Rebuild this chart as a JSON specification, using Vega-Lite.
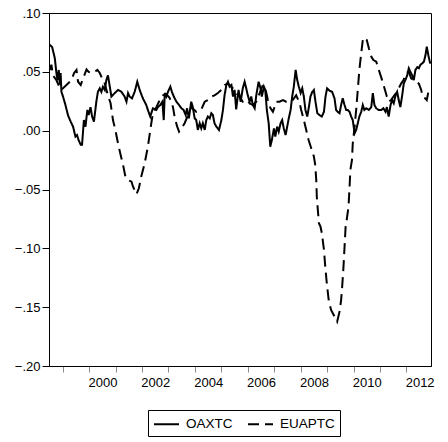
{
  "$schema": "https://vega.github.io/schema/vega-lite/v6.json",
  "width": 382,
  "height": 353,
  "autosize": "none",
  "padding": {"left": 49, "top": 13, "right": 17, "bottom": 76},
  "background": "white",
  "config": {
    "font": "Liberation Sans",
    "view": {"stroke": "black", "strokeWidth": 1}
  },
  "data": {
    "values": [
      {"series": "OAXTC", "year": 1998.51, "value": 0.073},
      {"series": "OAXTC", "year": 1998.60, "value": 0.071},
      {"series": "OAXTC", "year": 1998.70, "value": 0.0615},
      {"series": "OAXTC", "year": 1998.76, "value": 0.049},
      {"series": "OAXTC", "year": 1998.80, "value": 0.043},
      {"series": "OAXTC", "year": 1998.85, "value": 0.0516},
      {"series": "OAXTC", "year": 1998.89, "value": 0.039},
      {"series": "OAXTC", "year": 1998.92, "value": 0.049},
      {"series": "OAXTC", "year": 1998.95, "value": 0.033},
      {"series": "OAXTC", "year": 1999.01, "value": 0.029},
      {"series": "OAXTC", "year": 1999.10, "value": 0.022},
      {"series": "OAXTC", "year": 1999.20, "value": 0.013},
      {"series": "OAXTC", "year": 1999.30, "value": 0.0077},
      {"series": "OAXTC", "year": 1999.39, "value": 0.0034},
      {"series": "OAXTC", "year": 1999.48, "value": -0.005},
      {"series": "OAXTC", "year": 1999.54, "value": -0.0037},
      {"series": "OAXTC", "year": 1999.60, "value": -0.008},
      {"series": "OAXTC", "year": 1999.68, "value": -0.012},
      {"series": "OAXTC", "year": 1999.73, "value": -0.012},
      {"series": "OAXTC", "year": 1999.80, "value": 0.009},
      {"series": "OAXTC", "year": 1999.86, "value": 0.0034},
      {"series": "OAXTC", "year": 1999.93, "value": 0.0176},
      {"series": "OAXTC", "year": 1999.98, "value": 0.0133},
      {"series": "OAXTC", "year": 2000.05, "value": 0.020},
      {"series": "OAXTC", "year": 2000.11, "value": 0.012},
      {"series": "OAXTC", "year": 2000.18, "value": 0.0077},
      {"series": "OAXTC", "year": 2000.27, "value": 0.0246},
      {"series": "OAXTC", "year": 2000.33, "value": 0.033},
      {"series": "OAXTC", "year": 2000.40, "value": 0.036},
      {"series": "OAXTC", "year": 2000.46, "value": 0.033},
      {"series": "OAXTC", "year": 2000.52, "value": 0.0374},
      {"series": "OAXTC", "year": 2000.59, "value": 0.0346},
      {"series": "OAXTC", "year": 2000.65, "value": 0.043},
      {"series": "OAXTC", "year": 2000.71, "value": 0.047},
      {"series": "OAXTC", "year": 2000.78, "value": 0.0374},
      {"series": "OAXTC", "year": 2000.84, "value": 0.029},
      {"series": "OAXTC", "year": 2000.97, "value": 0.032},
      {"series": "OAXTC", "year": 2001.09, "value": 0.0346},
      {"series": "OAXTC", "year": 2001.22, "value": 0.033},
      {"series": "OAXTC", "year": 2001.34, "value": 0.029},
      {"series": "OAXTC", "year": 2001.41, "value": 0.0246},
      {"series": "OAXTC", "year": 2001.47, "value": 0.032},
      {"series": "OAXTC", "year": 2001.53, "value": 0.029},
      {"series": "OAXTC", "year": 2001.62, "value": 0.0275},
      {"series": "OAXTC", "year": 2001.72, "value": 0.033},
      {"series": "OAXTC", "year": 2001.82, "value": 0.0416},
      {"series": "OAXTC", "year": 2001.91, "value": 0.0346},
      {"series": "OAXTC", "year": 2002.03, "value": 0.0275},
      {"series": "OAXTC", "year": 2002.16, "value": 0.0218},
      {"series": "OAXTC", "year": 2002.22, "value": 0.0176},
      {"series": "OAXTC", "year": 2002.31, "value": 0.012},
      {"series": "OAXTC", "year": 2002.41, "value": 0.019},
      {"series": "OAXTC", "year": 2002.54, "value": 0.0176},
      {"series": "OAXTC", "year": 2002.60, "value": 0.020},
      {"series": "OAXTC", "year": 2002.69, "value": 0.0218},
      {"series": "OAXTC", "year": 2002.77, "value": 0.0246},
      {"series": "OAXTC", "year": 2002.82, "value": 0.009},
      {"series": "OAXTC", "year": 2002.86, "value": 0.032},
      {"series": "OAXTC", "year": 2002.92, "value": 0.029},
      {"series": "OAXTC", "year": 2002.98, "value": 0.033},
      {"series": "OAXTC", "year": 2003.07, "value": 0.0374},
      {"series": "OAXTC", "year": 2003.13, "value": 0.033},
      {"series": "OAXTC", "year": 2003.20, "value": 0.029},
      {"series": "OAXTC", "year": 2003.30, "value": 0.0246},
      {"series": "OAXTC", "year": 2003.40, "value": 0.0218},
      {"series": "OAXTC", "year": 2003.49, "value": 0.019},
      {"series": "OAXTC", "year": 2003.57, "value": 0.0176},
      {"series": "OAXTC", "year": 2003.65, "value": 0.0133},
      {"series": "OAXTC", "year": 2003.70, "value": 0.019},
      {"series": "OAXTC", "year": 2003.77, "value": 0.0105},
      {"series": "OAXTC", "year": 2003.86, "value": 0.0246},
      {"series": "OAXTC", "year": 2003.92, "value": 0.020},
      {"series": "OAXTC", "year": 2003.99, "value": 0.0105},
      {"series": "OAXTC", "year": 2004.05, "value": 0.009},
      {"series": "OAXTC", "year": 2004.11, "value": 0.0006},
      {"series": "OAXTC", "year": 2004.18, "value": 0.0063},
      {"series": "OAXTC", "year": 2004.24, "value": 0.002},
      {"series": "OAXTC", "year": 2004.30, "value": 0.0063},
      {"series": "OAXTC", "year": 2004.37, "value": 0.0006},
      {"series": "OAXTC", "year": 2004.43, "value": 0.009},
      {"series": "OAXTC", "year": 2004.49, "value": 0.012},
      {"series": "OAXTC", "year": 2004.56, "value": 0.0105},
      {"series": "OAXTC", "year": 2004.62, "value": 0.0148},
      {"series": "OAXTC", "year": 2004.68, "value": 0.0133},
      {"series": "OAXTC", "year": 2004.74, "value": 0.0063},
      {"series": "OAXTC", "year": 2004.81, "value": 0.0034},
      {"series": "OAXTC", "year": 2004.91, "value": 0.0006},
      {"series": "OAXTC", "year": 2005.00, "value": 0.009},
      {"series": "OAXTC", "year": 2005.06, "value": 0.0176},
      {"series": "OAXTC", "year": 2005.12, "value": 0.030},
      {"series": "OAXTC", "year": 2005.19, "value": 0.0388},
      {"series": "OAXTC", "year": 2005.25, "value": 0.0416},
      {"series": "OAXTC", "year": 2005.31, "value": 0.0374},
      {"series": "OAXTC", "year": 2005.38, "value": 0.0388},
      {"series": "OAXTC", "year": 2005.44, "value": 0.029},
      {"series": "OAXTC", "year": 2005.50, "value": 0.0346},
      {"series": "OAXTC", "year": 2005.56, "value": 0.018},
      {"series": "OAXTC", "year": 2005.65, "value": 0.0346},
      {"series": "OAXTC", "year": 2005.73, "value": 0.0246},
      {"series": "OAXTC", "year": 2005.81, "value": 0.036},
      {"series": "OAXTC", "year": 2005.88, "value": 0.0416},
      {"series": "OAXTC", "year": 2005.94, "value": 0.036},
      {"series": "OAXTC", "year": 2006.00, "value": 0.030},
      {"series": "OAXTC", "year": 2006.07, "value": 0.0246},
      {"series": "OAXTC", "year": 2006.13, "value": 0.029},
      {"series": "OAXTC", "year": 2006.19, "value": 0.0218},
      {"series": "OAXTC", "year": 2006.26, "value": 0.019},
      {"series": "OAXTC", "year": 2006.32, "value": 0.030},
      {"series": "OAXTC", "year": 2006.41, "value": 0.0416},
      {"series": "OAXTC", "year": 2006.48, "value": 0.036},
      {"series": "OAXTC", "year": 2006.53, "value": 0.029},
      {"series": "OAXTC", "year": 2006.61, "value": 0.0374},
      {"series": "OAXTC", "year": 2006.66, "value": 0.0346},
      {"series": "OAXTC", "year": 2006.72, "value": 0.0176},
      {"series": "OAXTC", "year": 2006.79, "value": 0.0063},
      {"series": "OAXTC", "year": 2006.85, "value": -0.0136},
      {"series": "OAXTC", "year": 2006.91, "value": -0.008},
      {"series": "OAXTC", "year": 2006.99, "value": 0.002},
      {"series": "OAXTC", "year": 2007.04, "value": -0.005},
      {"series": "OAXTC", "year": 2007.11, "value": 0.0034},
      {"series": "OAXTC", "year": 2007.17, "value": -0.0008},
      {"series": "OAXTC", "year": 2007.24, "value": 0.0063},
      {"series": "OAXTC", "year": 2007.30, "value": 0.009},
      {"series": "OAXTC", "year": 2007.36, "value": 0.002},
      {"series": "OAXTC", "year": 2007.43, "value": -0.0037},
      {"series": "OAXTC", "year": 2007.49, "value": 0.0034},
      {"series": "OAXTC", "year": 2007.55, "value": 0.0105},
      {"series": "OAXTC", "year": 2007.62, "value": 0.0176},
      {"series": "OAXTC", "year": 2007.68, "value": 0.029},
      {"series": "OAXTC", "year": 2007.74, "value": 0.0374},
      {"series": "OAXTC", "year": 2007.81, "value": 0.0516},
      {"series": "OAXTC", "year": 2007.87, "value": 0.043},
      {"series": "OAXTC", "year": 2007.93, "value": 0.0374},
      {"series": "OAXTC", "year": 2008.00, "value": 0.032},
      {"series": "OAXTC", "year": 2008.06, "value": 0.036},
      {"series": "OAXTC", "year": 2008.12, "value": 0.029},
      {"series": "OAXTC", "year": 2008.18, "value": 0.0176},
      {"series": "OAXTC", "year": 2008.25, "value": 0.012},
      {"series": "OAXTC", "year": 2008.31, "value": 0.020},
      {"series": "OAXTC", "year": 2008.37, "value": 0.029},
      {"series": "OAXTC", "year": 2008.44, "value": 0.033},
      {"series": "OAXTC", "year": 2008.50, "value": 0.0346},
      {"series": "OAXTC", "year": 2008.56, "value": 0.0246},
      {"series": "OAXTC", "year": 2008.63, "value": 0.0148},
      {"series": "OAXTC", "year": 2008.71, "value": 0.0133},
      {"series": "OAXTC", "year": 2008.80, "value": 0.012},
      {"series": "OAXTC", "year": 2008.88, "value": 0.016},
      {"series": "OAXTC", "year": 2008.94, "value": 0.029},
      {"series": "OAXTC", "year": 2009.00, "value": 0.036},
      {"series": "OAXTC", "year": 2009.09, "value": 0.034},
      {"series": "OAXTC", "year": 2009.19, "value": 0.033},
      {"series": "OAXTC", "year": 2009.28, "value": 0.0275},
      {"series": "OAXTC", "year": 2009.34, "value": 0.0176},
      {"series": "OAXTC", "year": 2009.40, "value": 0.016},
      {"series": "OAXTC", "year": 2009.47, "value": 0.0148},
      {"series": "OAXTC", "year": 2009.53, "value": 0.0218},
      {"series": "OAXTC", "year": 2009.59, "value": 0.0275},
      {"series": "OAXTC", "year": 2009.66, "value": 0.0218},
      {"series": "OAXTC", "year": 2009.72, "value": 0.0176},
      {"series": "OAXTC", "year": 2009.78, "value": 0.0176},
      {"series": "OAXTC", "year": 2009.85, "value": 0.016},
      {"series": "OAXTC", "year": 2009.91, "value": 0.012},
      {"series": "OAXTC", "year": 2009.97, "value": 0.009},
      {"series": "OAXTC", "year": 2010.04, "value": -0.0022},
      {"series": "OAXTC", "year": 2010.10, "value": 0.0006},
      {"series": "OAXTC", "year": 2010.16, "value": 0.0063},
      {"series": "OAXTC", "year": 2010.22, "value": 0.012},
      {"series": "OAXTC", "year": 2010.29, "value": 0.016},
      {"series": "OAXTC", "year": 2010.35, "value": 0.0218},
      {"series": "OAXTC", "year": 2010.41, "value": 0.0176},
      {"series": "OAXTC", "year": 2010.48, "value": 0.019},
      {"series": "OAXTC", "year": 2010.58, "value": 0.0176},
      {"series": "OAXTC", "year": 2010.67, "value": 0.020},
      {"series": "OAXTC", "year": 2010.73, "value": 0.032},
      {"series": "OAXTC", "year": 2010.79, "value": 0.0218},
      {"series": "OAXTC", "year": 2010.86, "value": 0.019},
      {"series": "OAXTC", "year": 2010.95, "value": 0.0176},
      {"series": "OAXTC", "year": 2011.05, "value": 0.0176},
      {"series": "OAXTC", "year": 2011.13, "value": 0.019},
      {"series": "OAXTC", "year": 2011.21, "value": 0.016},
      {"series": "OAXTC", "year": 2011.26, "value": 0.020},
      {"series": "OAXTC", "year": 2011.33, "value": 0.012},
      {"series": "OAXTC", "year": 2011.40, "value": 0.0218},
      {"series": "OAXTC", "year": 2011.46, "value": 0.026},
      {"series": "OAXTC", "year": 2011.52, "value": 0.0233},
      {"series": "OAXTC", "year": 2011.59, "value": 0.030},
      {"series": "OAXTC", "year": 2011.65, "value": 0.033},
      {"series": "OAXTC", "year": 2011.71, "value": 0.026},
      {"series": "OAXTC", "year": 2011.77, "value": 0.020},
      {"series": "OAXTC", "year": 2011.84, "value": 0.030},
      {"series": "OAXTC", "year": 2011.90, "value": 0.040},
      {"series": "OAXTC", "year": 2011.96, "value": 0.043},
      {"series": "OAXTC", "year": 2012.03, "value": 0.047},
      {"series": "OAXTC", "year": 2012.09, "value": 0.053},
      {"series": "OAXTC", "year": 2012.15, "value": 0.050},
      {"series": "OAXTC", "year": 2012.22, "value": 0.047},
      {"series": "OAXTC", "year": 2012.28, "value": 0.043},
      {"series": "OAXTC", "year": 2012.34, "value": 0.0516},
      {"series": "OAXTC", "year": 2012.41, "value": 0.054},
      {"series": "OAXTC", "year": 2012.47, "value": 0.053},
      {"series": "OAXTC", "year": 2012.53, "value": 0.056},
      {"series": "OAXTC", "year": 2012.59, "value": 0.057},
      {"series": "OAXTC", "year": 2012.66, "value": 0.0586},
      {"series": "OAXTC", "year": 2012.72, "value": 0.064},
      {"series": "OAXTC", "year": 2012.77, "value": 0.0714},
      {"series": "OAXTC", "year": 2012.83, "value": 0.064},
      {"series": "OAXTC", "year": 2012.90, "value": 0.057},

      {"series": "EUAPTC", "year": 1998.51, "value": 0.0516},
      {"series": "EUAPTC", "year": 1998.57, "value": 0.056},
      {"series": "EUAPTC", "year": 1998.63, "value": 0.047},
      {"series": "EUAPTC", "year": 1998.76, "value": 0.043},
      {"series": "EUAPTC", "year": 1998.92, "value": 0.0346},
      {"series": "EUAPTC", "year": 1999.01, "value": 0.036},
      {"series": "EUAPTC", "year": 1999.14, "value": 0.0388},
      {"series": "EUAPTC", "year": 1999.33, "value": 0.043},
      {"series": "EUAPTC", "year": 1999.43, "value": 0.049},
      {"series": "EUAPTC", "year": 1999.52, "value": 0.0516},
      {"series": "EUAPTC", "year": 1999.58, "value": 0.0416},
      {"series": "EUAPTC", "year": 1999.68, "value": 0.0388},
      {"series": "EUAPTC", "year": 1999.77, "value": 0.0445},
      {"series": "EUAPTC", "year": 1999.90, "value": 0.052},
      {"series": "EUAPTC", "year": 1999.98, "value": 0.050},
      {"series": "EUAPTC", "year": 2000.08, "value": 0.049},
      {"series": "EUAPTC", "year": 2000.21, "value": 0.050},
      {"series": "EUAPTC", "year": 2000.31, "value": 0.0516},
      {"series": "EUAPTC", "year": 2000.40, "value": 0.049},
      {"series": "EUAPTC", "year": 2000.49, "value": 0.0445},
      {"series": "EUAPTC", "year": 2000.59, "value": 0.040},
      {"series": "EUAPTC", "year": 2000.71, "value": 0.030},
      {"series": "EUAPTC", "year": 2000.81, "value": 0.0233},
      {"series": "EUAPTC", "year": 2000.90, "value": 0.009},
      {"series": "EUAPTC", "year": 2000.99, "value": 0.0006},
      {"series": "EUAPTC", "year": 2001.09, "value": -0.0107},
      {"series": "EUAPTC", "year": 2001.19, "value": -0.0207},
      {"series": "EUAPTC", "year": 2001.28, "value": -0.029},
      {"series": "EUAPTC", "year": 2001.37, "value": -0.039},
      {"series": "EUAPTC", "year": 2001.47, "value": -0.042},
      {"series": "EUAPTC", "year": 2001.60, "value": -0.0433},
      {"series": "EUAPTC", "year": 2001.66, "value": -0.0476},
      {"series": "EUAPTC", "year": 2001.79, "value": -0.054},
      {"series": "EUAPTC", "year": 2001.88, "value": -0.049},
      {"series": "EUAPTC", "year": 2001.97, "value": -0.039},
      {"series": "EUAPTC", "year": 2002.10, "value": -0.0277},
      {"series": "EUAPTC", "year": 2002.22, "value": -0.0136},
      {"series": "EUAPTC", "year": 2002.35, "value": 0.0063},
      {"series": "EUAPTC", "year": 2002.41, "value": 0.0148},
      {"series": "EUAPTC", "year": 2002.54, "value": 0.020},
      {"series": "EUAPTC", "year": 2002.67, "value": 0.026},
      {"series": "EUAPTC", "year": 2002.79, "value": 0.030},
      {"series": "EUAPTC", "year": 2002.92, "value": 0.031},
      {"series": "EUAPTC", "year": 2003.04, "value": 0.028},
      {"series": "EUAPTC", "year": 2003.17, "value": 0.020},
      {"series": "EUAPTC", "year": 2003.23, "value": 0.012},
      {"series": "EUAPTC", "year": 2003.32, "value": 0.004},
      {"series": "EUAPTC", "year": 2003.40, "value": -0.0008},
      {"series": "EUAPTC", "year": 2003.49, "value": 0.002},
      {"series": "EUAPTC", "year": 2003.61, "value": 0.0063},
      {"series": "EUAPTC", "year": 2003.74, "value": 0.0133},
      {"series": "EUAPTC", "year": 2003.86, "value": 0.020},
      {"series": "EUAPTC", "year": 2004.05, "value": 0.016},
      {"series": "EUAPTC", "year": 2004.24, "value": 0.018},
      {"series": "EUAPTC", "year": 2004.37, "value": 0.0246},
      {"series": "EUAPTC", "year": 2004.49, "value": 0.026},
      {"series": "EUAPTC", "year": 2004.62, "value": 0.029},
      {"series": "EUAPTC", "year": 2004.74, "value": 0.030},
      {"series": "EUAPTC", "year": 2004.87, "value": 0.032},
      {"series": "EUAPTC", "year": 2005.00, "value": 0.0346},
      {"series": "EUAPTC", "year": 2005.12, "value": 0.0388},
      {"series": "EUAPTC", "year": 2005.25, "value": 0.040},
      {"series": "EUAPTC", "year": 2005.44, "value": 0.036},
      {"series": "EUAPTC", "year": 2005.56, "value": 0.032},
      {"series": "EUAPTC", "year": 2005.69, "value": 0.029},
      {"series": "EUAPTC", "year": 2005.81, "value": 0.0246},
      {"series": "EUAPTC", "year": 2005.94, "value": 0.026},
      {"series": "EUAPTC", "year": 2006.07, "value": 0.0233},
      {"series": "EUAPTC", "year": 2006.19, "value": 0.0218},
      {"series": "EUAPTC", "year": 2006.32, "value": 0.0246},
      {"series": "EUAPTC", "year": 2006.45, "value": 0.032},
      {"series": "EUAPTC", "year": 2006.57, "value": 0.0388},
      {"series": "EUAPTC", "year": 2006.66, "value": 0.036},
      {"series": "EUAPTC", "year": 2006.76, "value": 0.026},
      {"series": "EUAPTC", "year": 2006.86, "value": 0.019},
      {"series": "EUAPTC", "year": 2006.95, "value": 0.016},
      {"series": "EUAPTC", "year": 2007.08, "value": 0.0246},
      {"series": "EUAPTC", "year": 2007.20, "value": 0.0246},
      {"series": "EUAPTC", "year": 2007.33, "value": 0.026},
      {"series": "EUAPTC", "year": 2007.45, "value": 0.0246},
      {"series": "EUAPTC", "year": 2007.58, "value": 0.0246},
      {"series": "EUAPTC", "year": 2007.70, "value": 0.026},
      {"series": "EUAPTC", "year": 2007.83, "value": 0.030},
      {"series": "EUAPTC", "year": 2007.96, "value": 0.0233},
      {"series": "EUAPTC", "year": 2008.02, "value": 0.0176},
      {"series": "EUAPTC", "year": 2008.12, "value": 0.009},
      {"series": "EUAPTC", "year": 2008.21, "value": 0.0006},
      {"series": "EUAPTC", "year": 2008.30, "value": -0.008},
      {"series": "EUAPTC", "year": 2008.40, "value": -0.015},
      {"series": "EUAPTC", "year": 2008.50, "value": -0.022},
      {"series": "EUAPTC", "year": 2008.55, "value": -0.029},
      {"series": "EUAPTC", "year": 2008.59, "value": -0.042},
      {"series": "EUAPTC", "year": 2008.61, "value": -0.056},
      {"series": "EUAPTC", "year": 2008.65, "value": -0.0674},
      {"series": "EUAPTC", "year": 2008.69, "value": -0.0787},
      {"series": "EUAPTC", "year": 2008.75, "value": -0.0816},
      {"series": "EUAPTC", "year": 2008.80, "value": -0.087},
      {"series": "EUAPTC", "year": 2008.88, "value": -0.101},
      {"series": "EUAPTC", "year": 2008.93, "value": -0.1156},
      {"series": "EUAPTC", "year": 2008.99, "value": -0.130},
      {"series": "EUAPTC", "year": 2009.06, "value": -0.144},
      {"series": "EUAPTC", "year": 2009.15, "value": -0.1524},
      {"series": "EUAPTC", "year": 2009.28, "value": -0.158},
      {"series": "EUAPTC", "year": 2009.38, "value": -0.1623},
      {"series": "EUAPTC", "year": 2009.47, "value": -0.1538},
      {"series": "EUAPTC", "year": 2009.53, "value": -0.144},
      {"series": "EUAPTC", "year": 2009.57, "value": -0.1326},
      {"series": "EUAPTC", "year": 2009.62, "value": -0.1156},
      {"series": "EUAPTC", "year": 2009.66, "value": -0.0986},
      {"series": "EUAPTC", "year": 2009.70, "value": -0.0816},
      {"series": "EUAPTC", "year": 2009.74, "value": -0.076},
      {"series": "EUAPTC", "year": 2009.81, "value": -0.0646},
      {"series": "EUAPTC", "year": 2009.85, "value": -0.0476},
      {"series": "EUAPTC", "year": 2009.88, "value": -0.0334},
      {"series": "EUAPTC", "year": 2009.94, "value": -0.025},
      {"series": "EUAPTC", "year": 2009.97, "value": -0.011},
      {"series": "EUAPTC", "year": 2010.04, "value": 0.0034},
      {"series": "EUAPTC", "year": 2010.10, "value": 0.0176},
      {"series": "EUAPTC", "year": 2010.16, "value": 0.0346},
      {"series": "EUAPTC", "year": 2010.22, "value": 0.0516},
      {"series": "EUAPTC", "year": 2010.29, "value": 0.0658},
      {"series": "EUAPTC", "year": 2010.35, "value": 0.077},
      {"series": "EUAPTC", "year": 2010.41, "value": 0.0793},
      {"series": "EUAPTC", "year": 2010.50, "value": 0.077},
      {"series": "EUAPTC", "year": 2010.58, "value": 0.070},
      {"series": "EUAPTC", "year": 2010.67, "value": 0.063},
      {"series": "EUAPTC", "year": 2010.75, "value": 0.060},
      {"series": "EUAPTC", "year": 2010.86, "value": 0.0586},
      {"series": "EUAPTC", "year": 2010.92, "value": 0.054},
      {"series": "EUAPTC", "year": 2010.98, "value": 0.050},
      {"series": "EUAPTC", "year": 2011.08, "value": 0.043},
      {"series": "EUAPTC", "year": 2011.17, "value": 0.036},
      {"series": "EUAPTC", "year": 2011.26, "value": 0.029},
      {"series": "EUAPTC", "year": 2011.33, "value": 0.0246},
      {"series": "EUAPTC", "year": 2011.42, "value": 0.026},
      {"series": "EUAPTC", "year": 2011.51, "value": 0.029},
      {"series": "EUAPTC", "year": 2011.61, "value": 0.032},
      {"series": "EUAPTC", "year": 2011.71, "value": 0.036},
      {"series": "EUAPTC", "year": 2011.80, "value": 0.040},
      {"series": "EUAPTC", "year": 2011.89, "value": 0.043},
      {"series": "EUAPTC", "year": 2011.99, "value": 0.049},
      {"series": "EUAPTC", "year": 2012.09, "value": 0.050},
      {"series": "EUAPTC", "year": 2012.18, "value": 0.0445},
      {"series": "EUAPTC", "year": 2012.27, "value": 0.043},
      {"series": "EUAPTC", "year": 2012.37, "value": 0.0416},
      {"series": "EUAPTC", "year": 2012.47, "value": 0.040},
      {"series": "EUAPTC", "year": 2012.56, "value": 0.0346},
      {"series": "EUAPTC", "year": 2012.61, "value": 0.029},
      {"series": "EUAPTC", "year": 2012.71, "value": 0.0275},
      {"series": "EUAPTC", "year": 2012.77, "value": 0.026},
      {"series": "EUAPTC", "year": 2012.83, "value": 0.033},
      {"series": "EUAPTC", "year": 2012.90, "value": 0.032}
    ]
  },
  "mark": {"type": "line", "color": "black", "strokeWidth": 2},
  "encoding": {
    "x": {
      "field": "year",
      "type": "quantitative",
      "scale": {"domain": [1998.48, 2012.93], "nice": false, "zero": false},
      "axis": {
        "title": null,
        "grid": false,
        "values": [1999, 2000, 2001, 2002, 2003, 2004, 2005, 2006, 2007, 2008, 2009, 2010, 2011, 2012, 2000.5, 2002.5, 2004.5, 2006.5, 2008.5, 2010.5, 2012.5],
        "domainColor": "black",
        "tickColor": "#8c8c8c",
        "tickSize": 6,
        "tickOpacity": {"condition": {"test": "datum.value % 1 == 0", "value": 1}, "value": 0},
        "labelExpr": "datum.value % 1 == 0 ? '' : '' + floor(datum.value)",
        "labelFontSize": 13,
        "labelColor": "black",
        "labelPadding": 4,
        "labelOverlap": false,
        "labelFlush": false
      }
    },
    "y": {
      "field": "value",
      "type": "quantitative",
      "scale": {"domain": [-0.2, 0.1], "nice": false, "zero": false},
      "axis": {
        "title": null,
        "grid": false,
        "values": [-0.2, -0.15, -0.1, -0.05, 0, 0.05, 0.1],
        "labelExpr": "replace(format(datum.value, '.2f'), '0.', '.')",
        "domainColor": "black",
        "tickColor": "black",
        "tickSize": 7,
        "labelPadding": 2,
        "labelFontSize": 13,
        "labelColor": "black"
      }
    },
    "strokeDash": {
      "field": "series",
      "type": "nominal",
      "scale": {"domain": ["OAXTC", "EUAPTC"], "range": [[1, 0], [11, 6]]},
      "legend": {
        "title": null,
        "orient": "none",
        "legendX": 99,
        "legendY": 397,
        "direction": "horizontal",
        "symbolType": "M-1,0H2.125",
        "symbolSize": 256,
        "symbolStrokeWidth": 2,
        "symbolStrokeColor": "black",
        "symbolFillColor": "transparent",
        "labelFontSize": 13.5,
        "labelColor": "black",
        "labelOffset": 15,
        "columnPadding": 11,
        "padding": 5,
        "strokeColor": "black",
        "fillColor": "white"
      }
    }
  }
}
